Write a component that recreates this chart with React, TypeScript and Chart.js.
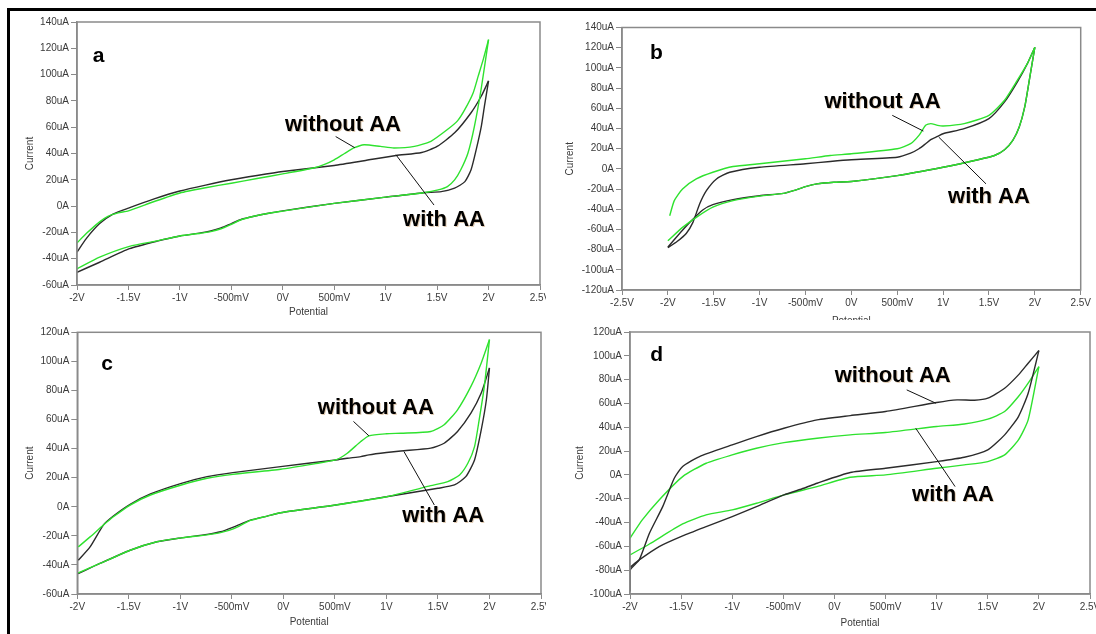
import React, { useEffect, useRef } from 'react';
import { Chart, registerables } from 'chart.js';

Chart.register(...registerables);

// ---------- Panel a ----------
const aGreenUpV = [-2.0, -1.91, -1.78, -1.7, -1.6, -1.5, -1.25, -1.0, -0.75, -0.5, -0.25, 0, 0.3, 0.4, 0.5, 0.6, 0.69, 0.79, 0.95, 1.08, 1.28, 1.44, 1.6, 1.7, 1.77, 1.85, 1.9, 1.95, 2.0];
const aGreenUpI = [-28, -20.9, -12, -7.8, -5.2, -3.6, 3.5, 10, 14, 17.4, 21, 24.5, 29, 31.5, 35.2, 40, 44.2, 46.7, 45.4, 44.2, 45.4, 49.3, 58.2, 65, 73.5, 86, 99, 112, 126.6];
const aGreenDnV = [2.0, 1.93, 1.863, 1.8, 1.73, 1.67, 1.6, 1.51, 1.37, 1.0, 0.5, 0, -0.15, -0.28, -0.4, -0.5, -0.6, -0.7, -0.8, -1.0, -1.22, -1.49, -1.78, -2.0];
const aGreenDnI = [126.6, 90, 60.8, 40.4, 27.6, 19.9, 14.8, 12.3, 10.2, 6.8, 2.1, -3.8, -5.6, -7.7, -10.2, -13.8, -17.2, -19.4, -20.6, -22.7, -26.4, -30.6, -38.8, -47.7];
const aBlackUpV = [-2.0, -1.91, -1.78, -1.65, -1.5, -1.25, -1.0, -0.75, -0.5, -0.25, 0, 0.5, 0.79, 1.1, 1.35, 1.5, 1.67, 1.83, 1.93, 2.0];
const aBlackUpI = [-35, -24.7, -13.3, -6.1, -1.5, 5.5, 11.5, 16, 20, 23.3, 26.3, 30.9, 34.5, 38.5, 40.8, 45.4, 55.7, 71, 83.7, 95.2];
const aBlackDnV = [2.0, 1.96, 1.93, 1.88, 1.83, 1.77, 1.67, 1.54, 1.37, 1.0, 0.5, 0, -0.15, -0.28, -0.4, -0.5, -0.6, -0.7, -0.8, -1.0, -1.22, -1.49, -1.78, -2.0];
const aBlackDnI = [95.2, 76, 60.8, 42.9, 27.6, 18.6, 13.6, 11, 10.2, 6.8, 2.1, -3.6, -5.6, -7.7, -10, -13.3, -16.6, -18.9, -20.4, -22.7, -26.6, -32.4, -42.7, -50.3];

// ---------- Panel b ----------
const bGreenUpV = [-1.98, -1.93, -1.84, -1.69, -1.51, -1.29, -1.0, -0.5, -0.23, 0, 0.5, 0.646, 0.737, 0.81, 0.865, 0.94, 1.0, 1.23, 1.5, 1.67, 1.81, 1.92, 2.0];
const bGreenUpI = [-46.5, -31.5, -19.9, -10, -3.4, 2.3, 5, 10, 13.2, 14.9, 19.9, 24.9, 33.1, 43.1, 44.8, 43.1, 42.4, 44.8, 53, 68, 87.9, 104.5, 120.4];
const bGreenDnV = [2.0, 1.94, 1.89, 1.83, 1.76, 1.67, 1.56, 1.38, 1.0, 0.5, 0, -0.19, -0.376, -0.5, -0.63, -0.74, -1.0, -1.29, -1.51, -1.69, -1.84, -2.0];
const bGreenDnI = [120.4, 87.9, 61.3, 41.4, 28.2, 18.9, 13.2, 9, 1.6, -6.7, -12.5, -13.3, -14.9, -17.6, -21.6, -24.3, -27, -31.5, -38, -48, -58, -71.3];
const bBlackUpV = [-2.0, -1.9, -1.8, -1.727, -1.654, -1.58, -1.47, -1.325, -1.0, -0.5, -0.23, 0, 0.5, 0.646, 0.737, 0.81, 0.865, 0.94, 1.0, 1.23, 1.5, 1.67, 1.81, 1.92, 2.0];
const bBlackUpI = [-78, -72, -64, -53, -34.8, -21.6, -10, -3.4, 1.6, 5, 7.3, 9, 11.5, 15.5, 19.9, 24.9, 28.9, 32.1, 34.8, 39.8, 49.8, 66.3, 86.2, 104.5, 120.4];
const bBlackDnV = [2.0, 1.94, 1.89, 1.83, 1.76, 1.67, 1.56, 1.38, 1.0, 0.5, 0, -0.19, -0.376, -0.5, -0.63, -0.74, -1.0, -1.29, -1.51, -1.62, -1.76, -1.91, -2.0];
const bBlackDnI = [120.4, 87.9, 61.3, 41.4, 28.2, 18.9, 13.2, 9, 1.6, -6.7, -12.5, -13.3, -14.9, -17.6, -21.6, -24.3, -26.6, -30.5, -35.5, -40.8, -53, -68, -77.6];

// ---------- Panel c ----------
const cGreenUpV = [-1.99, -1.876, -1.747, -1.65, -1.487, -1.29, -0.99, -0.74, -0.49, -0.027, 0.3, 0.508, 0.62, 0.751, 0.83, 1.0, 1.14, 1.43, 1.56, 1.69, 1.82, 1.92, 2.0];
const cGreenUpI = [-27.6, -20.7, -12.6, -6.9, 1.2, 8.1, 15, 19.6, 22.3, 25.8, 29.5, 32.2, 36.8, 44.9, 48.8, 50.2, 50.6, 51.8, 56.4, 66.7, 82.8, 98.9, 115];
const cGreenDnV = [2.0, 1.95, 1.9, 1.855, 1.79, 1.71, 1.595, 1.43, 1.0, 0.508, -0.027, -0.157, -0.32, -0.48, -0.61, -0.74, -0.99, -1.227, -1.487, -1.78, -1.99];
const cGreenDnI = [115, 82.8, 59.8, 41.4, 29.9, 21.9, 17.3, 14.5, 6.9, 1.2, -4.1, -6.4, -9.4, -15, -17.8, -19.3, -21.4, -24.1, -29.9, -39, -45.5];
const cBlackUpV = [-1.99, -1.876, -1.747, -1.65, -1.487, -1.29, -0.99, -0.74, -0.49, -0.027, 0.508, 0.62, 0.751, 0.83, 1.0, 1.14, 1.43, 1.56, 1.69, 1.82, 1.92, 2.0];
const cBlackUpI = [-36.8, -27.6, -12.6, -6.4, 1.7, 8.8, 16.1, 20.7, 23.5, 27.6, 32.2, 33.4, 34.5, 35.7, 37.3, 38.4, 40.3, 43.7, 51.8, 64.4, 78.2, 95.5];
const cBlackDnV = [2.0, 1.97, 1.92, 1.855, 1.77, 1.66, 1.5, 1.0, 0.508, -0.027, -0.157, -0.32, -0.48, -0.61, -0.74, -0.99, -1.227, -1.487, -1.78, -1.99];
const cBlackDnI = [95.5, 73.6, 52.9, 32.2, 20.7, 15, 12.7, 6.9, 1.2, -4.1, -6.4, -9.2, -13.8, -17.2, -19, -21.4, -24.1, -29.9, -39, -46];

// ---------- Panel d ----------
const dGreenUpV = [-2.0, -1.88, -1.715, -1.485, -1.255, -1.0, -0.763, -0.494, -0.17, 0.155, 0.5, 1.0, 1.27, 1.5, 1.665, 1.8, 1.895, 2.0];
const dGreenUpI = [-53.2, -37.8, -21, -1.4, 9.8, 16.8, 22.4, 27.1, 30.8, 33.6, 35.6, 40.6, 42.8, 46.8, 53.2, 65.8, 77, 91];
const dGreenDnV = [2.0, 1.895, 1.8, 1.665, 1.5, 1.27, 1.0, 0.5, 0.155, -0.17, -0.494, -0.763, -1.0, -1.255, -1.485, -1.81, -2.0];
const dGreenDnI = [91, 46.2, 29.4, 16.8, 11.2, 8.4, 5.6, 0, -2, -9.8, -16.8, -23.8, -29.4, -33.6, -41.2, -58, -67.2];
const dBlackUpV = [-2.0, -2.0, -1.91, -1.81, -1.68, -1.567, -1.485, -1.32, -1.0, -0.763, -0.494, -0.17, 0.155, 0.5, 1.0, 1.2, 1.37, 1.5, 1.665, 1.8, 1.895, 2.0];
const dBlackUpI = [-98, -80, -71.4, -49, -26.6, -2.8, 7, 15.4, 25.2, 32.2, 39.2, 46.2, 49.8, 53.2, 60.8, 63, 62.7, 64.4, 72.8, 84, 93.8, 104.4];
const dBlackDnV = [2.0, 1.895, 1.8, 1.665, 1.5, 1.27, 1.0, 0.5, 0.155, -0.17, -0.3, -0.494, -0.763, -1.0, -1.255, -1.485, -1.715, -1.91, -2.0];
const dBlackDnI = [104.4, 68.6, 49, 33.6, 21, 14.8, 11.2, 5.6, 2, -7, -11.2, -16.8, -26.6, -35, -43.4, -51.2, -60.2, -71.4, -77.6];

// ---------- Annotations (data coordinates: potential V, current uA) ----------
const labelWithout = 'without AA';
const labelWith = 'with AA';
const aNotes = { letter: ['a', -1.79, 114], without: [0.585, 62], withAA: [1.567, -10.7], leadWithout: [0.514, 52.9, 0.7, 44.4], leadWith: [1.1, 39, 1.47, 0.8] };
const bNotes = { letter: ['b', -2.125, 114.7], without: [0.34, 66], withAA: [1.5, -27.6], leadWithout: [0.446, 53, 0.785, 37.4], leadWith: [0.953, 31.4, 1.468, -14.9] };
const cNotes = { letter: ['c', -1.71, 98.4], without: [0.897, 68.1], withAA: [1.55, -6.4], leadWithout: [0.68, 58.7, 0.83, 48.8], leadWith: [1.17, 38, 1.465, 1.2] };
const dNotes = { letter: ['d', -1.74, 100.8], without: [0.57, 83.2], withAA: [1.16, -16.8], leadWithout: [0.707, 71.4, 0.992, 60.2], leadWith: [0.795, 39.2, 1.18, -9.8] };

const GREEN = '#2ee22e';
const BLACK = '#2b2b2b';
const AXIS = '#8a8a8a';
const TEXT = '#3a3a3a';
const FONT = "'Liberation Sans', Arial, sans-serif";

const pts = (v: number[], i: number[]) => v.map((x, k) => ({ x, y: i[k] }));

const fmtV = (v: number) => {
  const r = Math.round(v * 1000) / 1000;
  if (r === 0) return '0V';
  if (Math.abs(r) < 1) return `${Math.round(r * 1000)}mV`;
  return `${r}V`;
};
const fmtI = (v: number) => (Math.round(v) === 0 ? '0A' : `${Math.round(v)}uA`);

type Panel = {
  id: string;
  box: { left: number; top: number; width: number; height: number };
  xMin: number; xMax: number; yMin: number; yMax: number;
  yAxisW: number; xAxisH: number; padTop: number; padRight: number;
  yTitlePad: number; xTitlePad: number;
  series: { color: string; v: number[]; i: number[] }[];
  notes: any;
};

const panels: Panel[] = [
  {
    id: 'a', box: { left: 12, top: 12, width: 534, height: 308 },
    xMin: -2, xMax: 2.5, yMin: -60, yMax: 140,
    yAxisW: 65, xAxisH: 35, padTop: 10, padRight: 6, yTitlePad: 12, xTitlePad: 1.5,
    series: [
      { color: GREEN, v: aGreenUpV, i: aGreenUpI }, { color: GREEN, v: aGreenDnV, i: aGreenDnI },
      { color: BLACK, v: aBlackUpV, i: aBlackUpI }, { color: BLACK, v: aBlackDnV, i: aBlackDnI },
    ],
    notes: aNotes,
  },
  {
    id: 'b', box: { left: 560, top: 12, width: 536, height: 320 },
    xMin: -2.5, xMax: 2.5, yMin: -120, yMax: 140,
    yAxisW: 62, xAxisH: 42, padTop: 15.5, padRight: 15.3, yTitlePad: 4, xTitlePad: 5,
    series: [
      { color: GREEN, v: bGreenUpV, i: bGreenUpI }, { color: GREEN, v: bGreenDnV, i: bGreenDnI },
      { color: BLACK, v: bBlackUpV, i: bBlackUpI }, { color: BLACK, v: bBlackDnV, i: bBlackDnI },
    ],
    notes: bNotes,
  },
  {
    id: 'c', box: { left: 12, top: 322, width: 534, height: 312 },
    xMin: -2, xMax: 2.5, yMin: -60, yMax: 120,
    yAxisW: 65.3, xAxisH: 40, padTop: 10.3, padRight: 5, yTitlePad: 12, xTitlePad: 5.3,
    series: [
      { color: GREEN, v: cGreenUpV, i: cGreenUpI }, { color: GREEN, v: cGreenDnV, i: cGreenDnI },
      { color: BLACK, v: cBlackUpV, i: cBlackUpI }, { color: BLACK, v: cBlackDnV, i: cBlackDnI },
    ],
    notes: cNotes,
  },
  {
    id: 'd', box: { left: 560, top: 320, width: 536, height: 314 },
    xMin: -2, xMax: 2.5, yMin: -100, yMax: 120,
    yAxisW: 70, xAxisH: 40, padTop: 12, padRight: 6, yTitlePad: 14, xTitlePad: 4.7,
    series: [
      { color: BLACK, v: dBlackUpV, i: dBlackUpI }, { color: BLACK, v: dBlackDnV, i: dBlackDnI },
      { color: GREEN, v: dGreenUpV, i: dGreenUpI }, { color: GREEN, v: dGreenDnV, i: dGreenDnI },
    ],
    notes: dNotes,
  },
];

const framePlugin = {
  id: 'frame',
  afterDatasetsDraw(chart: any) {
    const { ctx, chartArea: ca } = chart;
    ctx.save();
    ctx.strokeStyle = AXIS;
    ctx.lineWidth = 1.5;
    ctx.strokeRect(ca.left, ca.top, ca.right - ca.left, ca.bottom - ca.top);
    ctx.restore();
  },
};

const notesPlugin = {
  id: 'notes',
  afterDraw(chart: any, _args: any, opts: any) {
    const n = opts.notes;
    if (!n) return;
    const { ctx } = chart;
    const xs = chart.scales.x;
    const ys = chart.scales.y;
    const px = (v: number) => xs.getPixelForValue(v);
    const py = (v: number) => ys.getPixelForValue(v);
    ctx.save();
    ctx.strokeStyle = '#111';
    ctx.lineWidth = 1;
    [n.leadWithout, n.leadWith].forEach((l: number[]) => {
      ctx.beginPath();
      ctx.moveTo(px(l[0]), py(l[1]));
      ctx.lineTo(px(l[2]), py(l[3]));
      ctx.stroke();
    });
    ctx.textAlign = 'center';
    ctx.textBaseline = 'middle';
    ctx.fillStyle = '#000';
    ctx.font = `bold 21px ${FONT}`;
    ctx.fillText(n.letter[0], px(n.letter[1]), py(n.letter[2]));
    ctx.font = `bold 22px ${FONT}`;
    ctx.shadowColor = 'rgba(170,110,40,0.35)';
    ctx.shadowOffsetX = 1;
    ctx.shadowOffsetY = 1;
    ctx.shadowBlur = 0.5;
    ctx.fillText(labelWithout, px(n.without[0]), py(n.without[1]));
    ctx.fillText(labelWith, px(n.withAA[0]), py(n.withAA[1]));
    ctx.restore();
  },
};

function PanelChart({ p }: { p: Panel }) {
  const ref = useRef<HTMLCanvasElement | null>(null);
  useEffect(() => {
    if (!ref.current) return;
    const chart = new Chart(ref.current, {
      type: 'scatter',
      data: {
        datasets: p.series.map((s) => ({
          data: pts(s.v, s.i),
          showLine: true,
          borderColor: s.color,
          backgroundColor: s.color,
          borderWidth: 1.4,
          pointRadius: 0,
          tension: 0.2,
        })),
      },
      options: {
        responsive: false,
        animation: false,
        devicePixelRatio: 1,
        layout: { padding: { top: p.padTop, right: p.padRight, left: 0, bottom: 0 } },
        plugins: {
          legend: { display: false },
          tooltip: { enabled: false },
          notes: { notes: p.notes },
        } as any,
        scales: {
          x: {
            type: 'linear',
            min: p.xMin,
            max: p.xMax,
            border: { display: true, color: AXIS, width: 1.5 },
            grid: { drawOnChartArea: false, drawTicks: true, tickLength: 5, color: AXIS, lineWidth: 1 },
            ticks: {
              stepSize: 0.5,
              autoSkip: false,
              maxRotation: 0,
              padding: 2,
              color: TEXT,
              font: { family: FONT, size: 10 },
              callback: (v: any) => fmtV(Number(v)),
            },
            title: { display: true, text: 'Potential', color: TEXT, font: { family: FONT, size: 10 }, padding: { top: 0, bottom: p.xTitlePad } },
            afterFit: (s: any) => { s.height = p.xAxisH; s.paddingLeft = 0; s.paddingRight = 0; },
          },
          y: {
            type: 'linear',
            min: p.yMin,
            max: p.yMax,
            border: { display: true, color: AXIS, width: 1.5 },
            grid: { drawOnChartArea: false, drawTicks: true, tickLength: 6, color: AXIS, lineWidth: 1 },
            ticks: {
              stepSize: 20,
              autoSkip: false,
              padding: 2,
              color: TEXT,
              font: { family: FONT, size: 10 },
              callback: (v: any) => fmtI(Number(v)),
            },
            title: { display: true, text: 'Current', color: TEXT, font: { family: FONT, size: 10 }, padding: { top: p.yTitlePad, bottom: 0 } },
            afterFit: (s: any) => { s.width = p.yAxisW; s.paddingTop = 0; s.paddingBottom = 0; },
          },
        },
      } as any,
      plugins: [framePlugin, notesPlugin],
    });
    return () => chart.destroy();
  }, [p]);
  return (
    <canvas
      ref={ref}
      width={p.box.width}
      height={p.box.height}
      style={{ position: 'absolute', left: p.box.left, top: p.box.top, width: p.box.width, height: p.box.height, background: '#fff' }}
    />
  );
}

export default function App() {
  return (
    <div style={{ position: 'fixed', left: 0, top: 0, width: 1096, height: 634, background: '#fff', overflow: 'hidden' }}>
      <div style={{ position: 'absolute', left: 8, top: 8, width: 1088, height: 3, background: '#000' }} />
      <div style={{ position: 'absolute', left: 7, top: 8, width: 3, height: 626, background: '#000' }} />
      {panels.map((p) => (
        <PanelChart key={p.id} p={p} />
      ))}
    </div>
  );
}
